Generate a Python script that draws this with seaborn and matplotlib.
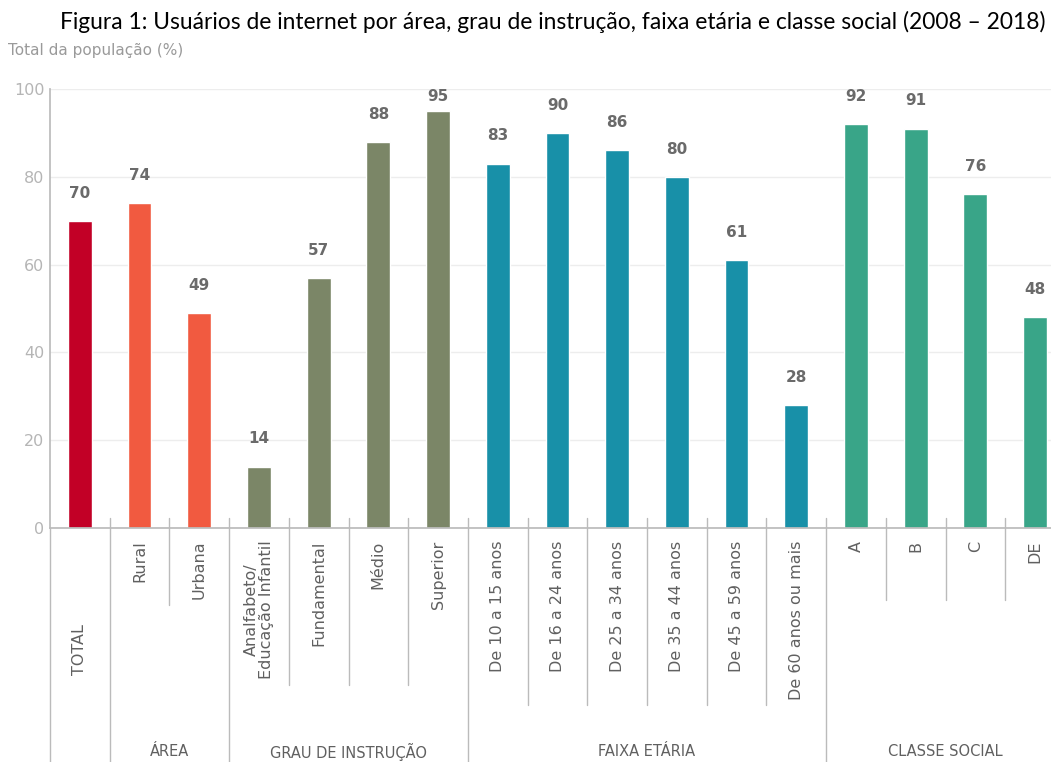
import matplotlib
matplotlib.use("Agg")
import matplotlib.pyplot as plt
import matplotlib.transforms as mtransforms
import seaborn as sns
import pandas as pd

categories = ["TOTAL", "Rural", "Urbana", "Analfabeto/\nEducação Infantil", "Fundamental",
              "Médio", "Superior", "De 10 a 15 anos", "De 16 a 24 anos", "De 25 a 34 anos",
              "De 35 a 44 anos", "De 45 a 59 anos", "De 60 anos ou mais", "A", "B", "C", "DE"]
values = [70, 74, 49, 14, 57, 88, 95, 83, 90, 86, 80, 61, 28, 92, 91, 76, 48]
groups = ["TOTAL", "ÁREA", "ÁREA", "GRAU DE INSTRUÇÃO", "GRAU DE INSTRUÇÃO",
          "GRAU DE INSTRUÇÃO", "GRAU DE INSTRUÇÃO", "FAIXA ETÁRIA", "FAIXA ETÁRIA",
          "FAIXA ETÁRIA", "FAIXA ETÁRIA", "FAIXA ETÁRIA", "FAIXA ETÁRIA",
          "CLASSE SOCIAL", "CLASSE SOCIAL", "CLASSE SOCIAL", "CLASSE SOCIAL"]
group_colors = {"TOTAL": "#C20026", "ÁREA": "#F15A40", "GRAU DE INSTRUÇÃO": "#7B8667",
                "FAIXA ETÁRIA": "#1890A8", "CLASSE SOCIAL": "#39A588"}
yticks = [0, 20, 40, 60, 80, 100]
title = "Figura 1: Usuários de internet por área, grau de instrução, faixa etária e classe social (2008 – 2018)"
subtitle = "Total da população (%)"

df = pd.DataFrame({"cat": categories, "val": values, "grp": groups})

sns.set_theme(style="white")
plt.rcParams['font.family'] = ['DejaVu Sans']

fig = plt.figure(figsize=(10.51, 7.62), dpi=100)
ax_h = 439 / 762
ax_b = 1 - 528 / 762
ax = fig.add_axes([50 / 1051, ax_b, 1 - 50 / 1051, ax_h])

sns.barplot(data=df, x="cat", y="val", hue="grp", palette=group_colors, dodge=False,
            width=0.4, legend=False, ax=ax, saturation=1)

ax.set_ylim(0, 100)
ax.set_xlim(-0.5, (1051 - 50) / 59.7 - 0.5)
ax.set_yticks(yticks)
ax.set_yticklabels([str(t) for t in yticks], color="#B5B5B5", fontsize=11.5)
ax.yaxis.grid(True, color="#EDEDED", linewidth=1)
ax.set_axisbelow(True)
ax.set_xlabel("")
ax.set_ylabel("")
for s in ["top", "right"]:
    ax.spines[s].set_visible(False)
ax.spines["bottom"].set_color("#BBBBBB")
ax.spines["left"].set_color("#BBBBBB")
ax.tick_params(axis="x", length=0, pad=9)
ax.tick_params(axis="y", length=0, pad=4)
ax.set_xticks(range(len(categories)))
tick_texts = ["" if c == "TOTAL" else c for c in categories]
ax.set_xticklabels(tick_texts, rotation=90, va="top", ha="center", color="#606060",
                   fontsize=11.5, linespacing=1.0)

trans = mtransforms.blended_transform_factory(ax.transData, ax.transAxes)
px = 1 / 439

# TOTAL label sits lower, bottom-aligned
ax.text(0, -147 * px, categories[0], transform=trans, rotation=90, ha="center", va="bottom",
        fontsize=11.5, color="#606060", clip_on=False)

for i, v in enumerate(values):
    ax.text(i, min(v + 6.3, 98.2), str(v), ha="center", va="center", fontsize=11,
            fontweight="bold", color="#6A6A6A")

# left spine extension
ax.plot([-0.5, -0.5], [0, -240 * px], transform=trans, color="#BBBBBB", lw=1, clip_on=False)

short_len = {"ÁREA": 77, "GRAU DE INSTRUÇÃO": 157, "FAIXA ETÁRIA": 177, "CLASSE SOCIAL": 72}
for i in range(len(categories) - 1):
    xpos = i + 0.5
    if groups[i] != groups[i + 1]:
        y1 = -240 * px
    else:
        y1 = -short_len[groups[i]] * px
    ax.plot([xpos, xpos], [10 * px, y1], transform=trans, color="#BBBBBB", lw=1, clip_on=False)

group_names = ["ÁREA", "GRAU DE INSTRUÇÃO", "FAIXA ETÁRIA", "CLASSE SOCIAL"]
for g in group_names:
    idx = [i for i, gg in enumerate(groups) if gg == g]
    center = (idx[0] + idx[-1]) / 2
    ax.text(center, -224 * px, g, transform=trans, ha="center", va="center",
            fontsize=10.5, color="#606060", clip_on=False)

fig.text(1045 / 1051, 1 - 22 / 762, title, ha="right", va="center", fontsize=16.4,
         color="black", family=["Lato", "DejaVu Sans"])
fig.text(8 / 1051, 1 - 51 / 762, subtitle, ha="left", va="center", fontsize=11,
         color="#9A9A9A")

fig.savefig("out.png", dpi=100)
